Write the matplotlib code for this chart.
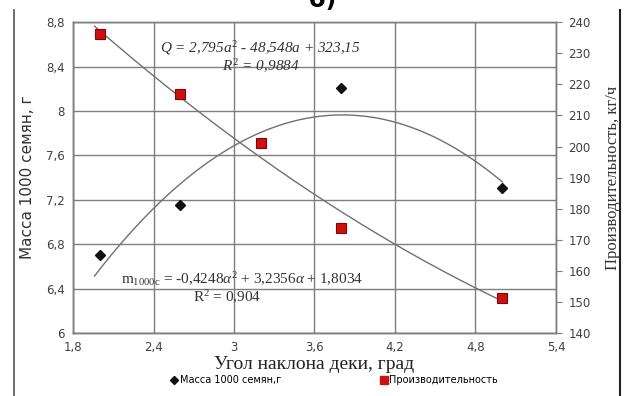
import numpy as np
import matplotlib
matplotlib.use("Agg")
import matplotlib.pyplot as plt
from matplotlib.lines import Line2D
from matplotlib.ticker import FuncFormatter

plt.rcParams["mathtext.fontset"] = "custom"
plt.rcParams["mathtext.rm"] = "Liberation Serif"
plt.rcParams["mathtext.it"] = "Liberation Serif:italic"

# data
angle_mass = [2.0, 2.6, 3.8, 5.0]
mass_1000 = [6.70, 7.15, 8.21, 7.31]
angle_q = [2.0, 2.6, 3.2, 3.8, 5.0]
productivity = [236.1, 216.8, 201.1, 173.8, 151.3]
mass_coef = [-0.4248, 3.2356, 1.8034]
q_coef = [2.795, -48.548, 323.15]
x_ticks = [1.8, 2.4, 3.0, 3.6, 4.2, 4.8, 5.4]
left_ticks = [6.0, 6.4, 6.8, 7.2, 7.6, 8.0, 8.4, 8.8]
right_ticks = [140, 150, 160, 170, 180, 190, 200, 210, 220, 230, 240]

comma = FuncFormatter(lambda v, p: ("%g" % round(v, 2)).replace(".", ","))

fig = plt.figure(figsize=(6.3, 3.96), dpi=100)
ax = fig.add_axes([0.1159, 0.159, 0.7666, 0.785])
ax2 = ax.twinx()

grid_c = "#7f7f7f"
ax.set_xlim(1.8, 5.4)
ax.set_ylim(6.0, 8.8)
ax2.set_ylim(140, 240)
ax.set_xticks(x_ticks)
ax.set_yticks(left_ticks)
ax2.set_yticks(right_ticks)
ax.xaxis.set_major_formatter(comma)
ax.yaxis.set_major_formatter(comma)
ax.grid(True, color=grid_c, lw=1.0)
ax.set_axisbelow(True)
ax.tick_params(axis="both", length=0, labelsize=8.5, colors="#404040", pad=6)
ax2.tick_params(axis="y", length=4, width=0.8, labelsize=8.5,
                colors="#404040", pad=5)
ax2.tick_params(axis="y", color=grid_c)
for a in (ax, ax2):
    for s in a.spines.values():
        s.set_color(grid_c)
        s.set_linewidth(1.0)
ax.spines["left"].set_color("#555555")
ax.spines["bottom"].set_color("#555555")

# trend lines
xs = np.linspace(1.96, 5.0, 200)
ax.plot(xs, np.polyval(mass_coef, xs), color="#707070", lw=1.0, zorder=2)
ax2.plot(xs, np.polyval(q_coef, xs), color="#707070", lw=1.0, zorder=2)

ax.plot(angle_mass, mass_1000, "D", color="#111111", ms=5.5, zorder=4)
ax2.plot(angle_q, productivity, "s", color="#cc1111", mec="#8b0000",
         mew=0.8, ms=7, zorder=4)

# equations
ax.text(3.2, 8.57, r"$Q$ = 2,795$a^{2}$ - 48,548$a$ + 323,15", ha="center",
        va="center", fontsize=11, family="Liberation Serif", style="italic",
        color="#333333")
ax.text(3.2, 8.40, r"$R^{2}$ = 0,9884", ha="center", va="center",
        fontsize=11, family="Liberation Serif", style="italic", color="#333333")
ax.text(3.06, 6.49,
        r"m$_{\mathrm{1000с}}$ = -0,4248$\alpha^{2}$ + 3,2356$\alpha$ + 1,8034",
        ha="center", va="center", fontsize=11, family="Liberation Serif",
        color="#333333")
ax.text(2.95, 6.32, r"R$^{2}$ = 0,904", ha="center", va="center",
        fontsize=11, family="Liberation Serif", color="#333333")

ax.set_xlabel("Угол наклона деки, град", family="Liberation Serif",
              fontsize=14, color="#222222", labelpad=1)
ax.set_ylabel("Масса 1000 семян, г", fontsize=11, color="#333333", labelpad=8)
ax2.set_ylabel("Производительность, кг/ч", family="Liberation Serif",
               fontsize=12, color="#333333", labelpad=10)

handles = [
    Line2D([], [], ls="none", marker="D", color="#111111", ms=4),
    Line2D([], [], ls="none", marker="s", color="#cc1111", ms=6),
]
fig.legend(handles, ["Масса 1000 семян,г", "Производительность"],
           loc="center", bbox_to_anchor=(0.53, 0.04), ncol=2, frameon=False,
           fontsize=7, handletextpad=0.1, columnspacing=10, handlelength=1)

fig.text(0.512, 1.0, "б)", ha="center", va="center", fontsize=17,
         fontweight="bold")
fig.add_artist(Line2D([0.022, 0.022], [0.0, 0.975], color="#555555", lw=1.2))
fig.add_artist(Line2D([0.984, 0.984], [0.0, 0.975], color="#222222", lw=1.5))

fig.savefig("out.png", dpi=100)
